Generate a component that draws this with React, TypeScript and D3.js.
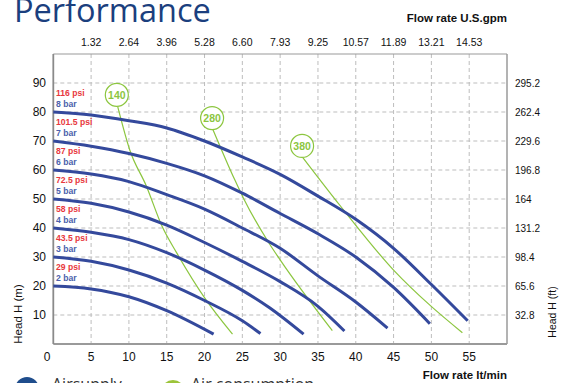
import React from 'react';
import * as d3 from 'd3';

const W = 573;
const H = 383;

const flowTicks = [0, 5, 10, 15, 20, 25, 30, 35, 40, 45, 50, 55];
const headTicks = [10, 20, 30, 40, 50, 60, 70, 80, 90];
const gpmLabels = ['1.32', '2.64', '3.96', '5.28', '6.60', '7.93', '9.25', '10.57', '11.89', '13.21', '14.53'];
const ftLabels = ['32.8', '65.6', '98.4', '131.2', '164', '196.8', '229.6', '262.4', '295.2'];

const barLabels = ['2 bar', '3 bar', '4 bar', '5 bar', '6 bar', '7 bar', '8 bar'];
const psiLabels = ['29 psi', '43.5 psi', '58 psi', '72.5 psi', '87 psi', '101.5 psi', '116 psi'];
const barStartHead = [20, 30, 40, 50, 60, 70, 80];

const curve2bar: [number, number][] = [[0, 20], [5, 19], [10, 16.3], [15, 11.5], [21.2, 3.4]];
const curve3bar: [number, number][] = [[0, 30], [5, 28.5], [10, 25.5], [15, 21], [20, 15], [25, 8], [27.4, 3.6]];
const curve4bar: [number, number][] = [[0, 40], [5, 38.5], [10, 36], [15, 31.5], [20, 25.5], [25, 18.5], [28.6, 12.5], [33.1, 3.4]];
const curve5bar: [number, number][] = [[0, 50], [5, 48.5], [10, 45.5], [15, 41], [20, 35], [25, 28.5], [30, 21.5], [35, 13], [38.5, 4.5]];
const curve6bar: [number, number][] = [[0, 60], [5, 58.6], [10, 56], [15, 51.5], [20, 46.5], [25, 40], [30, 33], [35, 23.5], [40, 14.5], [44.2, 5.5]];
const curve7bar: [number, number][] = [[0, 70], [5, 68.2], [10, 65.7], [15, 62.3], [20, 58], [25, 52], [30, 45], [35, 38], [40, 30], [45, 19.5], [49.8, 7]];
const curve8bar: [number, number][] = [[0, 80], [5, 79], [10, 77], [15, 74.5], [20, 70], [25, 64.5], [30, 58.5], [35, 51], [40, 43], [45, 33], [50, 20.5], [54.8, 8]];
const pressureCurves = [curve2bar, curve3bar, curve4bar, curve5bar, curve6bar, curve7bar, curve8bar];

const airNames = ['140', '280', '380'];
const air140: [number, number][] = [[8.5, 82], [10.1, 67], [12.3, 54.5], [14.4, 40.5], [16.3, 31.5], [20.2, 15.2], [23.7, 3.4]];
const air280: [number, number][] = [[21.1, 74], [24, 56.6], [25.2, 50], [28.6, 34.5], [30, 29], [36.9, 4.6]];
const air380: [number, number][] = [[33, 64.3], [38, 47.5], [45, 25.5], [49.8, 13.4], [54.1, 3.9]];
const airCurves = [air140, air280, air380];
const airLabelPos: [number, number][] = [[8.4, 85.9], [21, 77.9], [32.9, 68.3]];

const BLUE = '#34499c';
const GREEN = '#8cc63f';
const FONT = '"Liberation Sans", Arial, sans-serif';

export default function App() {
  const x = d3.scaleLinear().domain([0, 60]).range([53.3, 507]);
  const y = d3.scaleLinear().domain([0, 100]).range([344, 54]);
  const line = d3
    .line<[number, number]>()
    .x((d) => x(d[0]))
    .y((d) => y(d[1]))
    .curve(d3.curveMonotoneX);

  const x0 = x(0), x1 = x(60), y0 = y(0), y1 = y(100);

  return (
    <svg width={W} height={H} style={{ position: 'absolute', left: 0, top: 0, background: '#fff' }} fontFamily={FONT}>
      <rect x={0} y={0} width={W} height={H} fill="#fff" />
      {/* Title */}
      <text x={14} y={22} fontFamily='"Open Sans", sans-serif' fontSize={32.5} fill="#1b3f7e">Performance</text>
      <text x={507} y={22} fontSize={11.5} fontWeight="bold" fill="#111" textAnchor="end">Flow rate U.S.gpm</text>

      {/* grid */}
      {flowTicks.filter((t) => t > 0).map((t) => (
        <line key={'vx' + t} x1={x(t)} x2={x(t)} y1={y1} y2={y0} stroke="#bdbdbd" strokeDasharray="4,3" strokeWidth={1} />
      ))}
      {headTicks.map((t) => (
        <line key={'hy' + t} x1={x0} x2={x1} y1={y(t)} y2={y(t)} stroke="#bdbdbd" strokeDasharray="4,3" strokeWidth={1} />
      ))}

      {/* frame */}
      <line x1={x0} x2={x1} y1={y1} y2={y1} stroke="#9a9a9a" strokeWidth={1.2} />
      <line x1={x1} x2={x1} y1={y1} y2={y0} stroke="#9a9a9a" strokeWidth={1.5} />
      <line x1={x0} x2={x1} y1={y0} y2={y0} stroke="#9a9a9a" strokeWidth={1.8} />
      <line x1={x0} x2={x0} y1={y1} y2={y0} stroke="#8a8a8a" strokeWidth={1.8} />

      {/* top gpm labels */}
      {gpmLabels.map((l, i) => (
        <text key={'g' + l} x={x(flowTicks[i + 1])} y={46} fontSize={10.5} fill="#111" textAnchor="middle">{l}</text>
      ))}

      {/* left head labels */}
      {headTicks.map((t) => (
        <text key={'l' + t} x={46} y={y(t) + 4} fontSize={12} fill="#111" textAnchor="end">{t}</text>
      ))}
      {/* right ft labels */}
      {ftLabels.map((l, i) => (
        <text key={'r' + l} x={515} y={y(headTicks[i]) + 3.5} fontSize={10} fill="#111">{l}</text>
      ))}
      {/* bottom flow labels */}
      {flowTicks.map((t) => (
        <text key={'b' + t} x={t === 0 ? 47 : x(t)} y={361} fontSize={12} fill="#111" textAnchor="middle">{t}</text>
      ))}
      <text x={507} y={379} fontSize={11.5} fontWeight="bold" fill="#111" textAnchor="end">Flow rate  lt/min</text>

      <text transform="translate(22,314) rotate(-90)" fontSize={11.5} fill="#111" textAnchor="middle">Head H (m)</text>
      <text transform="translate(556,312) rotate(-90)" fontSize={10.5} fill="#111" textAnchor="middle">Head H (ft)</text>

      {/* pressure labels */}
      {barStartHead.map((h, i) => (
        <g key={'pl' + i}>
          <text x={56} y={y(h) - 16} fontSize={8.6} fontWeight="bold" fill="#e8383d">{psiLabels[i]}</text>
          <text x={56} y={y(h) - 5.5} fontSize={8.6} fontWeight="bold" fill="#4a5fab">{barLabels[i]}</text>
        </g>
      ))}

      {/* air consumption curves */}
      {airCurves.map((c, i) => (
        <path key={'a' + i} d={line(c) || ''} fill="none" stroke={GREEN} strokeWidth={1.2} />
      ))}

      {/* pressure curves */}
      {pressureCurves.map((c, i) => (
        <path key={'p' + i} d={line(c) || ''} fill="none" stroke={BLUE} strokeWidth={3} />
      ))}

      {/* air labels */}
      {airLabelPos.map((p, i) => (
        <g key={'al' + i}>
          <circle cx={x(p[0])} cy={y(p[1])} r={11.5} fill="#fff" stroke={GREEN} strokeWidth={1.2} />
          <text x={x(p[0])} y={y(p[1]) + 3.8} fontSize={10.5} fontWeight="bold" fill={GREEN} textAnchor="middle">{airNames[i]}</text>
        </g>
      ))}

      {/* legend (cut off at the bottom edge, as in the reference) */}
      <circle cx={27} cy={389} r={12} fill="#1f4d8c" />
      <text x={52} y={390} fontFamily='"Open Sans", sans-serif' fontSize={16} fill="#333">Airsupply</text>
      <circle cx={173} cy={392} r={12} fill="#9cc43a" />
      <text x={191} y={390} fontFamily='"Open Sans", sans-serif' fontSize={16} fill="#333">Air consumption</text>
    </svg>
  );
}
